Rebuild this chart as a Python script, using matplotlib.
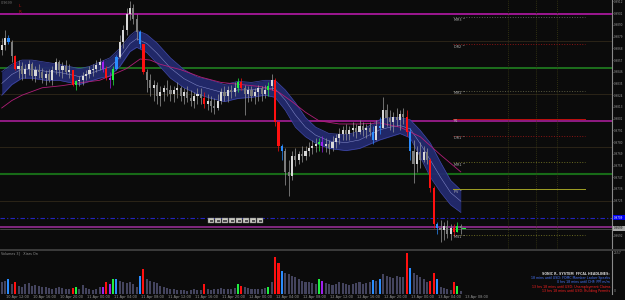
import matplotlib
matplotlib.use('Agg')
import matplotlib.pyplot as plt
from matplotlib.patches import Rectangle

# ---------------- data ----------------
first_open = 0.9866
highs = [0.9878, 0.9885, 0.9881, 0.9876, 0.9862, 0.9857, 0.9855, 0.9853, 0.9857, 0.9855,
         0.9851, 0.9853, 0.9850, 0.9848, 0.9849, 0.9851, 0.9859, 0.9857, 0.9855, 0.9857,
         0.9853, 0.9845, 0.9838, 0.9842, 0.9846, 0.9848, 0.9851, 0.9853, 0.9857, 0.9859,
         0.9857, 0.9851, 0.9846, 0.9851, 0.9862, 0.9881, 0.9890, 0.9906, 0.9912, 0.9910,
         0.9900, 0.9885, 0.9872, 0.9849, 0.9844, 0.9838, 0.9836, 0.9833, 0.9834, 0.9838,
         0.9834, 0.9833, 0.9836, 0.9833, 0.9831, 0.9833, 0.9829, 0.9827, 0.9831, 0.9831,
         0.9827, 0.9825, 0.9823, 0.9821, 0.9825, 0.9831, 0.9833, 0.9833, 0.9834, 0.9836,
         0.9840, 0.9840, 0.9834, 0.9833, 0.9833, 0.9831, 0.9834, 0.9833, 0.9834, 0.9836,
         0.9844, 0.9840, 0.9799, 0.9778, 0.9774, 0.9763, 0.9772, 0.9774, 0.9772, 0.9776,
         0.9776, 0.9780, 0.9782, 0.9784, 0.9784, 0.9786, 0.9784, 0.9782, 0.9786, 0.9788,
         0.9793, 0.9795, 0.9797, 0.9795, 0.9799, 0.9797, 0.9801, 0.9799, 0.9797, 0.9799,
         0.9795, 0.9801, 0.9804, 0.9822, 0.9816, 0.9810, 0.9808, 0.9812, 0.9810, 0.9812,
         0.9810, 0.9793, 0.9782, 0.9776, 0.9780, 0.9776, 0.9774, 0.9765, 0.9739, 0.9705,
         0.9707, 0.9705, 0.9707, 0.9703, 0.9703, 0.9705, 0.9703]
lows = [0.9862, 0.9866, 0.9872, 0.9855, 0.9848, 0.9840, 0.9838, 0.9840, 0.9843, 0.9838,
        0.9836, 0.9840, 0.9835, 0.9834, 0.9836, 0.9834, 0.9844, 0.9842, 0.9840, 0.9844,
        0.9840, 0.9833, 0.9829, 0.9833, 0.9834, 0.9838, 0.9840, 0.9842, 0.9846, 0.9848,
        0.9846, 0.9838, 0.9831, 0.9834, 0.9848, 0.9859, 0.9868, 0.9881, 0.9895, 0.9891,
        0.9876, 0.9868, 0.9844, 0.9827, 0.9823, 0.9819, 0.9816, 0.9814, 0.9819, 0.9823,
        0.9819, 0.9818, 0.9821, 0.9819, 0.9816, 0.9818, 0.9814, 0.9812, 0.9816, 0.9816,
        0.9812, 0.9810, 0.9808, 0.9806, 0.9810, 0.9816, 0.9819, 0.9818, 0.9821, 0.9823,
        0.9827, 0.9829, 0.9805, 0.9818, 0.9819, 0.9816, 0.9819, 0.9819, 0.9821, 0.9823,
        0.9829, 0.9795, 0.9772, 0.9763, 0.9740, 0.9729, 0.9744, 0.9758, 0.9759, 0.9761,
        0.9763, 0.9767, 0.9769, 0.9771, 0.9772, 0.9771, 0.9771, 0.9769, 0.9772, 0.9774,
        0.9778, 0.9782, 0.9782, 0.9782, 0.9786, 0.9784, 0.9788, 0.9786, 0.9784, 0.9786,
        0.9778, 0.9782, 0.9788, 0.9793, 0.9795, 0.9791, 0.9789, 0.9795, 0.9791, 0.9797,
        0.9786, 0.9763, 0.9742, 0.9752, 0.9756, 0.9761, 0.9759, 0.9733, 0.9699, 0.9694,
        0.9686, 0.9688, 0.9690, 0.9688, 0.9692, 0.9696, 0.9694]
closes = [0.9871, 0.9878, 0.9874, 0.9861, 0.9849, 0.9851, 0.9844, 0.9849, 0.9853, 0.9842,
          0.9848, 0.9846, 0.9840, 0.9844, 0.9838, 0.9848, 0.9855, 0.9848, 0.9851, 0.9846,
          0.9848, 0.9834, 0.9837, 0.9838, 0.9842, 0.9844, 0.9848, 0.9849, 0.9852, 0.9855,
          0.9849, 0.9840, 0.9838, 0.9849, 0.9860, 0.9874, 0.9885, 0.9900, 0.9906, 0.9896,
          0.9883, 0.9872, 0.9846, 0.9838, 0.9831, 0.9834, 0.9823, 0.9827, 0.9831, 0.9829,
          0.9825, 0.9829, 0.9831, 0.9823, 0.9827, 0.9821, 0.9819, 0.9823, 0.9825, 0.9821,
          0.9816, 0.9819, 0.9814, 0.9812, 0.9819, 0.9827, 0.9823, 0.9829, 0.9827, 0.9831,
          0.9836, 0.9831, 0.9825, 0.9829, 0.9823, 0.9827, 0.9831, 0.9825, 0.9829, 0.9833,
          0.9838, 0.9799, 0.9776, 0.9772, 0.9752, 0.9748, 0.9767, 0.9763, 0.9769, 0.9767,
          0.9772, 0.9774, 0.9776, 0.9778, 0.9780, 0.9776, 0.9778, 0.9774, 0.9780, 0.9784,
          0.9788, 0.9791, 0.9788, 0.9791, 0.9793, 0.9789, 0.9795, 0.9791, 0.9793, 0.9789,
          0.9782, 0.9795, 0.9793, 0.9810, 0.9803, 0.9799, 0.9804, 0.9801, 0.9806, 0.9804,
          0.9789, 0.9772, 0.9759, 0.9771, 0.9763, 0.9771, 0.9763, 0.9737, 0.9703, 0.9699,
          0.9697, 0.9701, 0.9694, 0.9699, 0.9696, 0.9701, 0.9699]
volumes = [700, 800, 900, 600, 750, 500, 450, 600, 650, 500,
           550, 500, 450, 400, 350, 300, 380, 420, 350, 300,
           280, 350, 400, 300, 550, 350, 300, 250, 300, 450,
           400, 700, 600, 900, 900, 800, 700, 650, 700, 600,
           450, 1100, 1500, 900, 800, 700, 650, 500, 450, 350,
           300, 280, 250, 220, 250, 200, 230, 300, 250, 220,
           600, 300, 260, 280, 320, 350, 300, 280, 320, 350,
           600, 500, 450, 350, 300, 320, 280, 300, 350, 400,
           700, 2250, 1900, 1400, 1300, 1200, 1100, 1000, 900, 800,
           750, 700, 650, 600, 900, 800, 650, 600, 550, 600,
           700, 650, 600, 550, 600, 650, 700, 600, 650, 700,
           850, 800, 900, 1200, 1100, 1000, 950, 1100, 1000, 1050,
           2480, 1600, 1300, 1150, 1000, 900, 700, 800, 1250, 900,
           400, 350, 300, 250, 700, 500, 200]
special = {'r': [4, 21, 31, 42, 60, 71, 81, 82, 120, 127, 128, 134],
           'g': [22, 33, 70, 79, 94, 135],
           'b': [2, 34, 41, 83, 110, 112, 121, 129],
           'm': [30, 32, 95]}

band_idx = [0, 3, 6, 9, 13, 17, 20, 23, 26, 29, 32, 35, 38, 40, 43, 46, 50, 54, 58, 62,
            66, 70, 74, 78, 81, 84, 87, 90, 93, 97, 102, 106, 112, 115, 118, 121, 124, 127,
            130, 133, 136]
band_upper = [0.9846, 0.9853, 0.9857, 0.9857, 0.9855, 0.9853, 0.9851, 0.9849, 0.9851, 0.9855,
              0.9859, 0.9868, 0.9880, 0.9885, 0.9881, 0.9873, 0.9859, 0.9848, 0.9841, 0.9838,
              0.9834, 0.9837, 0.9836, 0.9838, 0.9838, 0.9829, 0.9817, 0.9803, 0.9794, 0.9788,
              0.9787, 0.9790, 0.9801, 0.9803, 0.9803, 0.9801, 0.9791, 0.9779, 0.9761, 0.9744,
              0.9735]
band_lower = [0.9824, 0.9834, 0.9840, 0.9840, 0.9838, 0.9838, 0.9836, 0.9834, 0.9837, 0.9840,
              0.9842, 0.9851, 0.9865, 0.9869, 0.9864, 0.9854, 0.9840, 0.9831, 0.9825, 0.9821,
              0.9818, 0.9821, 0.9822, 0.9824, 0.9822, 0.9810, 0.9794, 0.9785, 0.9779, 0.9774,
              0.9772, 0.9774, 0.9782, 0.9785, 0.9788, 0.9784, 0.9766, 0.9747, 0.9733, 0.9721,
              0.9714]
ma_idx = [0, 3, 6, 12, 18, 24, 29, 32, 37, 41, 44, 47, 53, 59, 65, 71, 77, 82, 86, 90,
          94, 100, 106, 112, 118, 124, 130, 136]
ma_vals = [0.9812, 0.9819, 0.9824, 0.9831, 0.9833, 0.9836, 0.9838, 0.9842, 0.9849, 0.9858,
           0.9857, 0.9853, 0.9848, 0.9841, 0.9836, 0.9834, 0.9832, 0.9827, 0.9818, 0.9808,
           0.9800, 0.9797, 0.9797, 0.9798, 0.9794, 0.9785, 0.9768, 0.9752]

level_100 = [0.9900, 0.9800, 0.9700]
level_50 = [0.9850, 0.9750]
level_25 = [0.9875, 0.9825, 0.9775, 0.9725]
order_level = 0.9709
bid_price = 0.9699

pivot_names = ['MR3 ^', 'DR2 ^', 'MR2 ^', 'R1', 'DR1 ^', 'MR1 ^', 'PV ^', 'MS1 ^']
pivot_values = [0.9897, 0.9872, 0.9828, 0.9802, 0.9786, 0.9761, 0.97355, 0.9693]

price_ticks = [0.9912, 0.9901, 0.9890, 0.9879, 0.9868, 0.9857, 0.9846, 0.9835, 0.9824,
               0.9813, 0.9802, 0.9791, 0.9780, 0.9769, 0.9758, 0.9747, 0.9736, 0.9725,
               0.9692]
time_labels = ['10 Apr 12:00', '10 Apr 16:00', '10 Apr 20:00', '11 Apr 00:00', '11 Apr 04:00',
               '11 Apr 08:00', '11 Apr 12:00', '11 Apr 16:00', '11 Apr 20:00', '12 Apr 00:00',
               '12 Apr 04:00', '12 Apr 08:00', '12 Apr 12:00', '12 Apr 16:00', '12 Apr 20:00',
               '13 Apr 00:00', '13 Apr 04:00', '13 Apr 08:00']
headlines = [('SONIC R. SYSTEM  FFCAL HEADLINES:', '#d0d0d0'),
             ('18 mins until USD: FOMC Member Lacker Speaks', '#4a78ff'),
             ('0 hrs 18 mins until CHF: PPI m/m', '#4a78ff'),
             ('13 hrs 18 mins until USD: Unemployment Claims', '#ff2020'),
             ('13 hrs 18 mins until USD: Building Permits', '#ff2020')]
vol_max_label = '2557'

# ---------------- style ----------------
BG = '#0b0b0b'
W, H = 625, 300
fig = plt.figure(figsize=(6.25, 3.0), dpi=100, facecolor=BG)

XMIN, XMAX = -0.504, 180.8
YTOP, YBOT = 0.99134, 0.96796

ax = fig.add_axes([0, 51 / H, 612 / W, 249 / H], facecolor=BG)
ax.set_xlim(XMIN, XMAX)
ax.set_ylim(YBOT, YTOP)
for s in ['top', 'left', 'bottom']:
    ax.spines[s].set_visible(False)
ax.spines['right'].set_color('#8a8a8a')
ax.spines['right'].set_linewidth(0.8)
ax.set_xticks([])
ax.yaxis.tick_right()
ax.set_yticks(price_ticks)
ax.set_yticklabels([f'{p:.4f}' for p in price_ticks])
ax.tick_params(axis='y', labelsize=2.0, colors='#9a9a9a', length=1.0, width=0.4, pad=0.4)

# round levels
for lv in level_25:
    ax.axhline(lv, color='#2c2418', lw=0.7, zorder=1)
for lv, c in zip(level_50, ['#228a22', '#176a17']):
    ax.axhline(lv, color=c, lw=1.1 if lv > 0.98 else 1.5, zorder=1)
for lv, c in zip(level_100, ['#a8189c', '#9a1c8c', '#8a2a86']):
    ax.axhline(lv, color=c, lw=1.3, zorder=1)
ax.axhline(bid_price - 0.00003, color='#5a5a5a', lw=0.5, zorder=1)
ax.axhline(order_level, color='#2424c0', lw=0.8, ls=(0, (4, 2, 1, 2)), zorder=1)

# vertical dotted session lines (future area)
for xv in [150.0, 158.3, 164.5]:
    ax.axvline(xv, color='#3c3c14', lw=0.6, ls=(0, (1, 1.5)), zorder=1)

# dragon band
ax.fill_between(band_idx, band_lower, band_upper, color='#232a6e', alpha=0.95, lw=0, zorder=2)
ax.plot(band_idx, band_upper, color='#4048a8', lw=0.5, zorder=2)
ax.plot(band_idx, band_lower, color='#4048a8', lw=0.5, zorder=2)
ax.plot(band_idx, [(u + l) / 2 for u, l in zip(band_upper, band_lower)],
        color='#8a90d0', lw=0.35, zorder=2)

# trend MA
ax.plot(ma_idx, ma_vals, color='#b01e78', lw=0.6, zorder=3)

# candles
cmap = {'r': '#ff1010', 'g': '#20ee40', 'b': '#2a8cff', 'm': '#a020f0'}
code = ['n'] * len(closes)
for k, idxs in special.items():
    for i in idxs:
        code[i] = k
opens = [first_open] + closes[:-1]
for i, (o, h, l, c) in enumerate(zip(opens, highs, lows, closes)):
    if code[i] != 'n':
        col = cmap[code[i]]
        wick = col
    else:
        col = '#d8d8d8' if c >= o else '#7c7c7c'
        wick = '#9a9a9a'
    ax.vlines(i, l, h, color=wick, lw=0.5, zorder=4)
    bot, top = min(o, c), max(o, c)
    if top - bot < 0.00005:
        top = bot + 0.00005
    ax.add_patch(Rectangle((i - 0.32, bot), 0.64, top - bot, facecolor=col,
                           edgecolor='none', zorder=5))
ax.plot([len(closes) - 0.5, len(closes) + 0.3], [bid_price, bid_price], color='#20ee40', lw=0.8, zorder=5)

# pivot levels
pv_start, pv_end = 133.7, 172.8
pv_styles = [('#5a5a5a', ':'), ('#8c1414', ':'), ('#5a5a40', ':'), ('#c01010', '-'),
             ('#8c1414', ':'), ('#6a6a22', ':'), ('#a0a024', '-'), ('#6a6a22', ':')]
for name, val, (c, ls) in zip(pivot_names, pivot_values, pv_styles):
    ax.plot([pv_start, pv_end], [val, val], color=c, lw=0.7, ls=ls, zorder=3)
    ax.text(pv_start + 0.3, val - 0.00004, name, fontsize=2.4, color='#b8b8b8',
            va='top', ha='left', zorder=6)

# price tags on right axis
def yfig(p):
    return (51 + 249 * (p - YBOT) / (YTOP - YBOT)) / H
fig.patches.append(Rectangle((613 / W, yfig(order_level) - 2.3 / H), 12 / W, 4.6 / H,
                             transform=fig.transFigure, facecolor='#0000f0', edgecolor='none'))
fig.text(613.6 / W, yfig(order_level), f'{order_level:.4f}', fontsize=2.0, color='white', va='center')
fig.patches.append(Rectangle((613 / W, yfig(bid_price) - 2.3 / H), 12 / W, 4.6 / H,
                             transform=fig.transFigure, facecolor='#a8a8a8', edgecolor='none'))
fig.text(613.6 / W, yfig(bid_price), f'{bid_price:.4f}', fontsize=2.0, color='#101010', va='center')

# toolbar buttons
for k in range(8):
    x0 = 208 + 7 * k
    fig.patches.append(Rectangle((x0 / W, (H - 223) / H), 6 / W, 5 / H, transform=fig.transFigure,
                                 facecolor='#c8c8c0', edgecolor='#707070', lw=0.3))
    fig.patches.append(Rectangle(((x0 + 1.5) / W, (H - 221.5) / H), 3 / W, 2 / H,
                                 transform=fig.transFigure, facecolor='#505050', edgecolor='none'))

# top-left info
fig.text(1 / W, 1 - 1.5 / H, '0.9699', fontsize=2.4, color='#707070', va='top')
fig.text(19 / W, 1 - 4 / H, 'L', fontsize=3, color='#c01010', va='top')
fig.text(19 / W, 1 - 10 / H, 'R', fontsize=3, color='#c01010', va='top')

# separator
fig.patches.append(Rectangle((0, (H - 251) / H), 1, 2 / H, transform=fig.transFigure,
                             facecolor='#3a3a3a', edgecolor='none'))

# volume panel
vax = fig.add_axes([0, 6 / H, 612 / W, 43 / H], facecolor=BG)
vax.set_xlim(XMIN, XMAX)
vax.set_ylim(0, 2600)
for s in ['top', 'left', 'bottom']:
    vax.spines[s].set_visible(False)
vax.spines['right'].set_color('#8a8a8a')
vax.spines['right'].set_linewidth(0.8)
vax.set_xticks([])
vax.set_yticks([])
vcols = [cmap[c] if c != 'n' else '#44445e' for c in code]
vax.bar(range(len(volumes)), volumes, width=0.6, color=vcols, linewidth=0)
fig.text(1 / W, 1 - 253 / H, 'Volumes 3]   Xiars On', fontsize=2.4, color='#909090', va='center')
fig.text(613.6 / W, 1 - 253 / H, vol_max_label, fontsize=2.2, color='#9a9a9a', va='center')
fig.text(613.6 / W, 1 - 291 / H, '0', fontsize=2.2, color='#9a9a9a', va='center')
for j, (txt, c) in enumerate(headlines):
    fig.text(610 / W, 1 - (274 + 4.2 * j) / H, txt, fontsize=2.3, color=c, ha='right', va='center',
             fontweight='bold' if j == 0 else 'normal')

# time axis
for j, lab in enumerate(time_labels):
    xi = 1 + 8 * j
    xpx = 1.7 + 3.375 * xi
    if xpx > 600:
        break
    fig.text((xpx + 1) / W, 3 / H, lab, fontsize=2.5, color='#9a9a9a', va='center', ha='left')

fig.savefig('out.png', dpi=100, facecolor=BG)
